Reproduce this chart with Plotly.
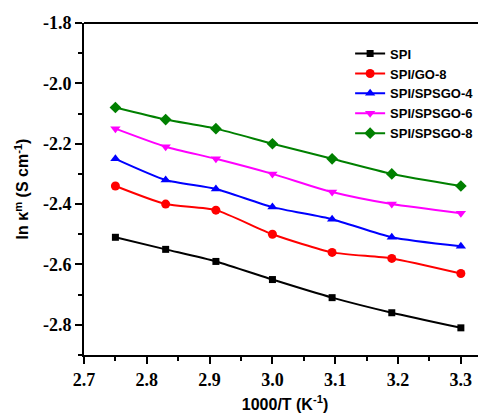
import plotly.graph_objects as go

x = [2.75, 2.83, 2.91, 3.0, 3.095, 3.19, 3.3]
names = ["SPI", "SPI/GO-8", "SPI/SPSGO-4", "SPI/SPSGO-6", "SPI/SPSGO-8"]
spi = [-2.51, -2.55, -2.59, -2.65, -2.71, -2.76, -2.81]
go8 = [-2.34, -2.40, -2.42, -2.50, -2.56, -2.58, -2.63]
spsgo4 = [-2.25, -2.32, -2.35, -2.41, -2.45, -2.51, -2.54]
spsgo6 = [-2.15, -2.21, -2.25, -2.30, -2.36, -2.40, -2.43]
spsgo8 = [-2.08, -2.12, -2.15, -2.20, -2.25, -2.30, -2.34]
series = [spi, go8, spsgo4, spsgo6, spsgo8]
colors = ["black", "red", "blue", "magenta", "green"]
symbols = ["square", "circle", "triangle-up", "triangle-down", "diamond"]
sizes = [7, 9, 9, 9, 9]
xticks = [2.7, 2.8, 2.9, 3.0, 3.1, 3.2, 3.3]
yticks = [-2.8, -2.6, -2.4, -2.2, -2.0, -1.8]

fig = go.Figure()
for n, y, c, s, sz in zip(names, series, colors, symbols, sizes):
    fig.add_trace(go.Scatter(x=x, y=y, name=n, mode="lines+markers",
                             line=dict(color=c, width=2, shape="spline", smoothing=0.6),
                             marker=dict(color=c, symbol=s, size=sz)))

tickfont = dict(family="Liberation Serif, Times New Roman, serif", size=18, color="black", weight="bold")
fig.update_layout(
    width=478, height=405,
    margin=dict(l=76, r=0, t=15, b=58, autoexpand=False),
    plot_bgcolor="white", paper_bgcolor="white",
    font=dict(family="Liberation Sans", color="black"),
    legend=dict(x=0.662, y=0.953, xanchor="left", yanchor="top",
                font=dict(family="Liberation Sans, Arial", size=13, color="black", weight="bold"),
                bgcolor="rgba(0,0,0,0)", tracegroupgap=0, itemwidth=30),
    showlegend=True,
)
fig.update_xaxes(range=[2.7, 3.34], tickvals=xticks,
                 ticktext=["%.1f" % v for v in xticks],
                 ticks="outside", ticklen=7, tickwidth=2, tickcolor="black",
                 minor=dict(ticks="outside", ticklen=4, tickwidth=2, tickcolor="black", dtick=0.05, tick0=2.75),
                 showline=True, linecolor="black", linewidth=2, mirror=False,
                 showgrid=False, zeroline=False, tickfont=tickfont, automargin=False,
                 title=dict(text="1000/T (K<sup>-1</sup>)", font=dict(family="Liberation Sans, Arial", size=16, weight="bold"), standoff=10))
fig.update_yaxes(range=[-2.9, -1.8], tickvals=yticks,
                 ticktext=["%.1f" % v for v in yticks],
                 ticks="outside", ticklen=7, tickwidth=2, tickcolor="black",
                 minor=dict(ticks="outside", ticklen=4, tickwidth=2, tickcolor="black", dtick=0.1, tick0=-2.9),
                 showline=True, linecolor="black", linewidth=2,
                 showgrid=False, zeroline=False, tickfont=tickfont, automargin=False,
                 title=dict(text="ln κ<sup>m</sup> (S cm<sup>-1</sup>)", font=dict(family="Liberation Sans, Arial", size=16, weight="bold"), standoff=10))
# top border line
fig.add_shape(type="line", xref="paper", yref="paper", x0=0, x1=1, y0=1, y1=1,
              line=dict(color="black", width=2))
fig.write_html("out.html")
